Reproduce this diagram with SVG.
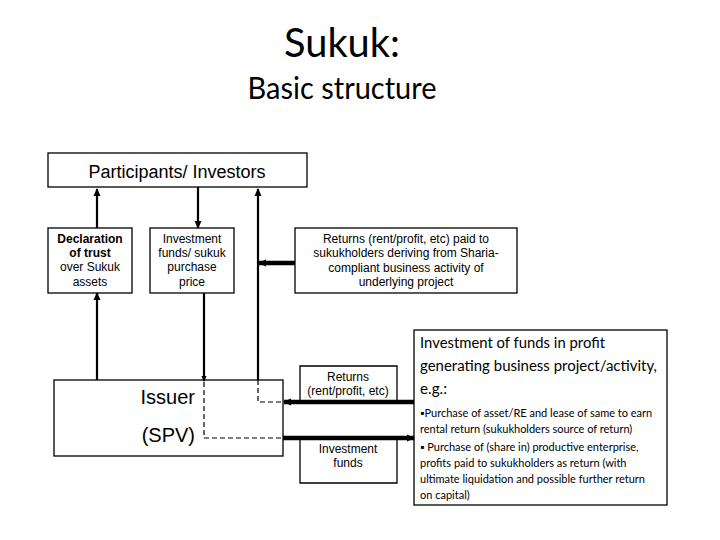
<svg xmlns="http://www.w3.org/2000/svg" width="720" height="540" viewBox="0 0 720 540">
<style>
.box{fill:#fff;stroke:#000;stroke-width:1.3}
.a{font-family:"Liberation Sans",Arial,sans-serif;font-size:12px;fill:#000;text-anchor:middle}
.c{font-family:Lato,"Open Sans",sans-serif;fill:#000}
.b{font-family:Lato,"Open Sans",sans-serif;fill:#000;font-size:11px}
.ln{stroke:#000;stroke-width:2.2;fill:none}
.thick{stroke:#000;stroke-width:4.5;fill:none}
.dash{stroke:#000;stroke-width:1.2;fill:none;stroke-dasharray:5 3}
</style>
<defs>
<marker id="ah" markerWidth="8" markerHeight="8" refX="7" refY="4" orient="auto" markerUnits="userSpaceOnUse">
<path d="M0,0.5 L8,4 L0,7.5 z" fill="#000"/>
</marker>
<marker id="ahs" markerWidth="6" markerHeight="6" refX="5" refY="3" orient="auto" markerUnits="userSpaceOnUse">
<path d="M0,0.5 L6,3 L0,5.5 z" fill="#000"/>
</marker>
</defs>
<rect width="720" height="540" fill="#fff"/>
<text x="342" y="57" font-family="Lato,'Open Sans',sans-serif" font-size="40" text-anchor="middle" textLength="116" lengthAdjust="spacingAndGlyphs">Sukuk:</text>
<text x="342" y="99" font-family="Lato,'Open Sans',sans-serif" font-size="30" text-anchor="middle" textLength="189" lengthAdjust="spacingAndGlyphs">Basic structure</text>

<g id="participants">
<rect class="box" x="48" y="153" width="259" height="34"/>
<text x="177" y="178" font-family="'Liberation Sans',Arial,sans-serif" font-size="18" text-anchor="middle">Participants/ Investors</text>
</g>

<g id="declaration">
<rect class="box" x="48" y="228" width="84" height="65"/>
<text class="a" x="90" y="243" font-weight="bold">Declaration</text>
<text class="a" x="90" y="257" font-weight="bold">of trust</text>
<text class="a" x="90" y="271">over Sukuk</text>
<text class="a" x="90" y="286">assets</text>
</g>

<g id="investment">
<rect class="box" x="150" y="228" width="84" height="65"/>
<text class="a" x="192" y="243">Investment</text>
<text class="a" x="192" y="257">funds/ sukuk</text>
<text class="a" x="192" y="271">purchase</text>
<text class="a" x="192" y="286">price</text>
</g>

<g id="returns-top">
<rect class="box" x="295" y="228" width="222" height="65"/>
<text class="a" x="406" y="243">Returns (rent/profit, etc) paid to</text>
<text class="a" x="406" y="257">sukukholders deriving from Sharia-</text>
<text class="a" x="406" y="272">compliant business activity of</text>
<text class="a" x="406" y="286">underlying project</text>
</g>

<g id="issuer">
<rect class="box" x="54" y="380" width="229" height="76"/>
<text x="195" y="404" font-family="'Liberation Sans',Arial,sans-serif" font-size="20" text-anchor="end">Issuer</text>
<text x="195" y="442" font-family="'Liberation Sans',Arial,sans-serif" font-size="20" text-anchor="end">(SPV)</text>
</g>

<g id="returns-small">
<path class="box" d="M300,402 V366 H397 V402"/>
<text class="a" x="348" y="381">Returns</text>
<text class="a" x="348" y="395">(rent/profit, etc)</text>
</g>

<g id="funds-small">
<path class="box" d="M300,438 V483 H397 V438"/>
<text class="a" x="348" y="453">Investment</text>
<text class="a" x="348" y="467">funds</text>
</g>

<g id="project">
<rect class="box" x="414" y="330" width="253" height="175"/>
<text class="c" x="420" y="348" font-size="14.5" textLength="185" lengthAdjust="spacingAndGlyphs">Investment of funds in profit</text>
<text class="c" x="420" y="371" font-size="14.5" textLength="237" lengthAdjust="spacingAndGlyphs">generating business project/activity,</text>
<text class="c" x="420" y="394" font-size="14.5" textLength="27" lengthAdjust="spacingAndGlyphs">e.g.:</text>
<text class="b" x="420" y="417">▪Purchase of asset/RE and lease of same to earn</text>
<text class="b" x="420" y="433">rental return (sukukholders source of return)</text>
<text class="b" x="420" y="451">▪  Purchase of (share in) productive enterprise,</text>
<text class="b" x="420" y="467">profits paid to sukukholders as return (with</text>
<text class="b" x="420" y="483">ultimate liquidation and possible further return</text>
<text class="b" x="420" y="499">on capital)</text>
</g>

<g id="connectors">
<line class="ln" x1="97" y1="228" x2="97" y2="189" marker-end="url(#ah)"/>
<line class="ln" x1="198" y1="187" x2="198" y2="228" marker-end="url(#ah)"/>
<line class="ln" x1="258" y1="380" x2="258" y2="189" marker-end="url(#ah)"/>
<line class="thick" x1="295" y1="263" x2="259" y2="263" marker-end="url(#ah)"/>
<line class="ln" x1="97" y1="380" x2="97" y2="293" marker-end="url(#ah)"/>
<line class="ln" x1="204" y1="293" x2="204" y2="381" marker-end="url(#ahs)"/>
<polyline class="dash" points="204,382 204,438 283,438"/>
<polyline class="dash" points="258,380 258,402 285,402"/>
<line class="thick" x1="283" y1="438" x2="414" y2="438" marker-end="url(#ah)"/>
<line class="thick" x1="414" y1="402" x2="284" y2="402" marker-end="url(#ah)"/>
</g>
</svg>
